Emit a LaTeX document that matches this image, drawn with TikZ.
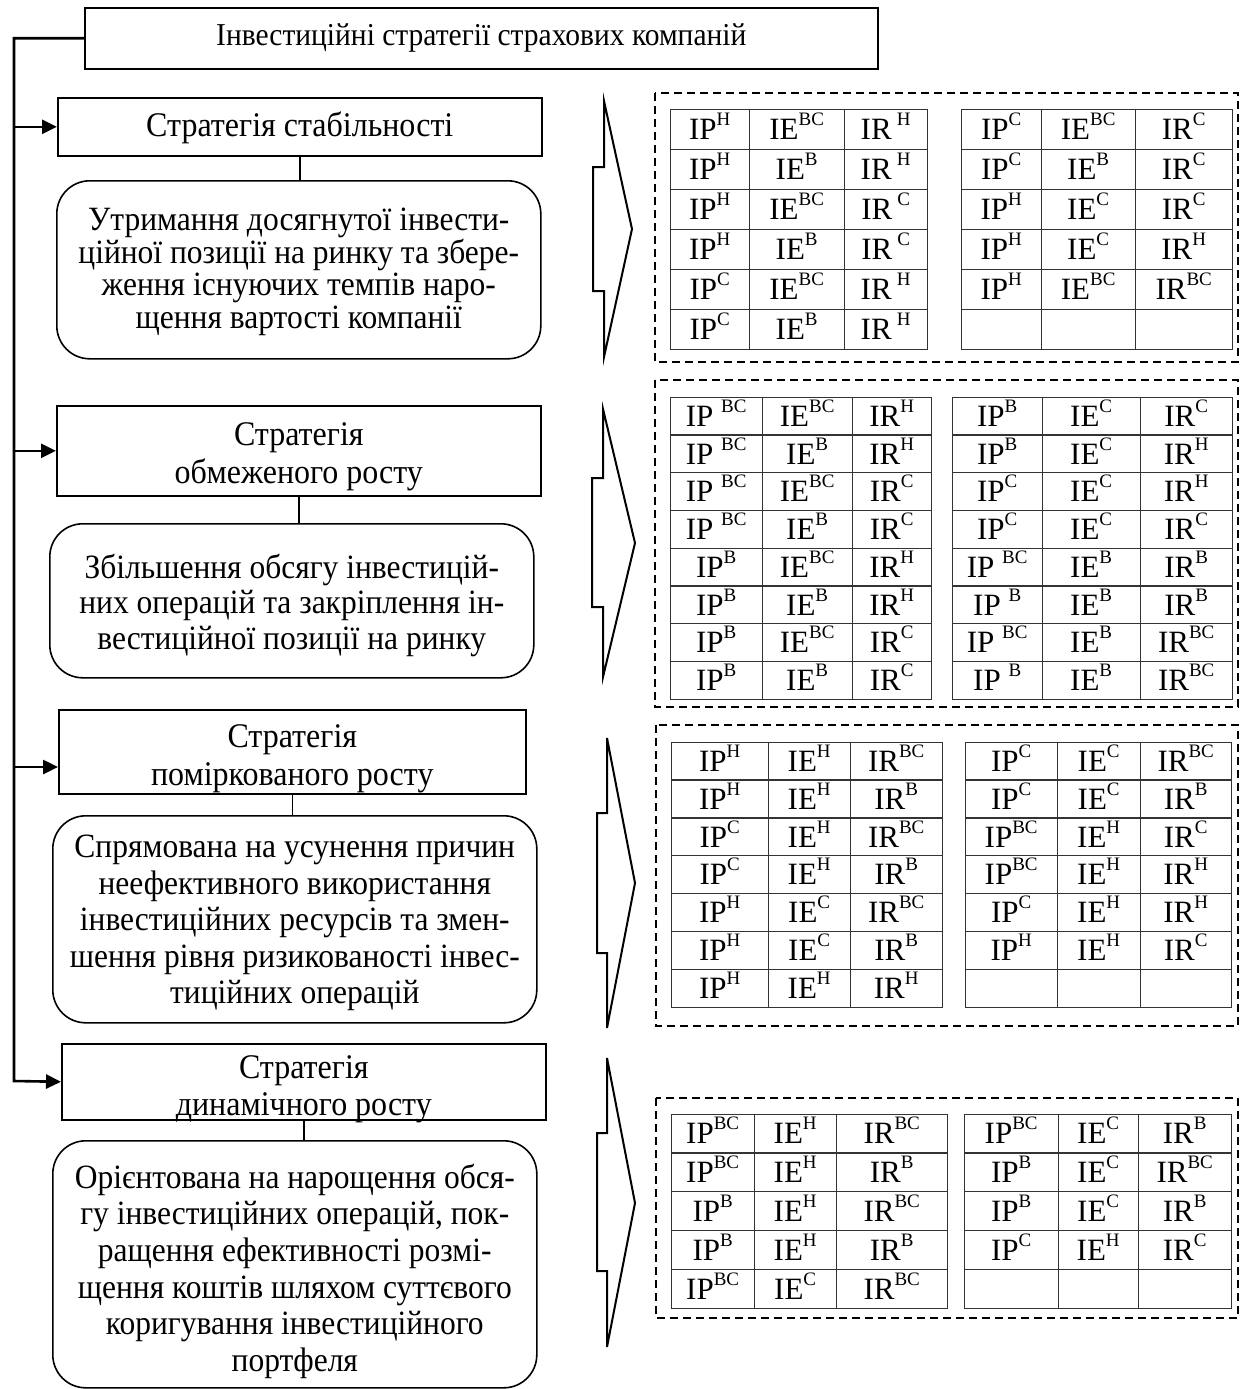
\documentclass[tikz,border=0pt]{standalone}
\usepackage{fontspec}
\setmainfont{Liberation Serif}
\usetikzlibrary{arrows.meta,matrix}

% raised index letter after IP / IE / IR
\newcommand\up[1]{\raisebox{14pt}{\fontsize{19}{19}\selectfont #1}}

\tikzset{
  frame/.style={draw, line width=1.6pt},
  sbox/.style={frame, rectangle, inner sep=0pt, anchor=north west},
  rbox/.style={frame, rounded corners=33pt, inner sep=0pt, anchor=north west},
  txt/.style={align=center, inner sep=0pt, yscale=1.08, transform shape},
  link/.style={line width=1.6pt},
  trunk/.style={line width=2.6pt},
  arr/.style={trunk, -{Triangle[length=15pt,width=14pt]}},
  chev/.style={line width=2pt, line join=miter},
  dashbox/.style={line width=1.9pt, dash pattern=on 8pt off 5pt},
  tab/.style={matrix of nodes, anchor=north west, nodes in empty cells,
    column sep=-1.3pt, row sep=-1.3pt,
    nodes={draw=black!80, line width=1.3pt, inner sep=0pt, text height=20.5pt,
      text depth=0pt, font=\fontsize{31}{34}\selectfont}},
  tabcols/.style n args={3}{column 1/.style={nodes={minimum width=#1}},
    column 2/.style={nodes={minimum width=#2}},
    column 3/.style={nodes={minimum width=#3}}},
  rowh/.style={nodes={minimum height=#1}}
}

\begin{document}
\begin{tikzpicture}[x=1pt, y=-1pt]
\useasboundingbox (0,0) rectangle (1246,1389);

% ---------- left column: strategies ----------
\node[sbox, minimum width=793pt, minimum height=61pt] (title) at (84,7) {};
\node[txt, font=\fontsize{29.5}{31}\selectfont] (titlet) at (title.center)
  {Інвестиційні стратегії страхових компаній};

\node[sbox, minimum width=484pt, minimum height=58pt] (s1) at (57,97) {};
\node[txt, font=\fontsize{32}{34.7}\selectfont] (s1t) at ([yshift=-1pt]s1.center) {Стратегія стабільності};
\node[rbox, minimum width=484pt, minimum height=178pt] (r1) at (56,180) {};
\node[txt, font=\fontsize{31.5}{30.1}\selectfont] (r1t) at ([yshift=-2pt]r1.center)
  {Утримання досягнутої інвести-\\ційної позиції на ринку та збере-\\ження існуючих темпів наро-\\щення вартості компанії};

\node[sbox, minimum width=484pt, minimum height=90pt] (s2) at (56,405) {};
\node[txt, font=\fontsize{32}{34.7}\selectfont] (s2t) at ([yshift=-6pt]s2.center) {Стратегія\\обмеженого росту};
\node[rbox, minimum width=484pt, minimum height=154pt] (r2) at (49,523) {};
\node[txt, font=\fontsize{31.5}{32.9}\selectfont] (r2t) at ([yshift=-4.5pt]r2.center)
  {Збільшення обсягу інвестицій-\\них операцій та закріплення ін-\\вестиційної позиції на ринку};

\node[sbox, minimum width=467pt, minimum height=84pt] (s3) at (58,709) {};
\node[txt, font=\fontsize{32}{34.7}\selectfont] (s3t) at ([yshift=-7pt]s3.center) {Стратегія\\поміркованого росту};
\node[rbox, minimum width=484pt, minimum height=207pt] (r3) at (52,815) {};
\node[txt, font=\fontsize{31.5}{33.8}\selectfont] (r3t) at ([yshift=-4pt]r3.center)
  {Спрямована на усунення причин\\неефективного використання\\інвестиційних ресурсів та змен-\\шення рівня ризикованості інвес-\\тиційних операцій};

\node[sbox, minimum width=484pt, minimum height=76pt] (s4) at (61,1043) {};
\node[txt, font=\fontsize{32}{34.7}\selectfont] (s4t) at ([yshift=-7.5pt]s4.center) {Стратегія\\динамічного росту};
\node[rbox, minimum width=484pt, minimum height=247pt] (r4) at (52,1140) {};
\node[txt, font=\fontsize{31.5}{34}\selectfont] (r4t) at ([yshift=-7pt]r4.center)
  {Орієнтована на нарощення обся-\\гу інвестиційних операцій, пок-\\ращення ефективності розмі-\\щення коштів шляхом суттєвого\\коригування інвестиційного\\портфеля};

% strategy box to its description
\draw[link] (s1.south) -- (s1.south |- r1.north);
\draw[link] (s2.south) -- (s2.south |- r2.north);
\draw[link] (s3.south) -- (s3.south |- r3.north);
\draw[link] (s4.south) -- (s4.south |- r4.north);

% trunk line with branches
\coordinate (tb) at (14,1081);
\coordinate (a3) at (14,767);
\draw[arr] (title.west) -| (tb) -- (s4.west);
\draw[arr] (s1.west -| tb) -- (s1.west);
\draw[arr] (s2.west -| tb) -- (s2.west);
\draw[arr] (a3) -- (a3 -| s3.west);

% ---------- chevrons ----------
\draw[chev] (604,101) -- (604,167) -- (593,167) -- (593,291) -- (604,291) -- (604,357) -- (632,229) -- cycle;
\draw[chev] (603,409) -- (603,478) -- (592,478) -- (592,607) -- (603,607) -- (603,677) -- (635,543) -- cycle;
\draw[chev] (607,738) -- (607,813) -- (597,813) -- (597,953) -- (607,953) -- (607,1028) -- (635,883) -- cycle;
\draw[chev] (607,1058) -- (607,1133) -- (597,1133) -- (597,1271) -- (607,1271) -- (607,1347) -- (635,1203) -- cycle;

% ---------- dashed frames ----------
\draw[dashbox] (655,93) rectangle (1238,362);
\draw[dashbox] (655,380) rectangle (1238,707);
\draw[dashbox] (656,725) rectangle (1238,1026);
\draw[dashbox] (656,1098) rectangle (1238,1318);

% ---------- tables: stability ----------
\matrix (g1a) [tab, tabcols={79pt}{95pt}{83pt}, rowh=40pt] at (666,105) {
IP\up{Н} & IE\up{ВС} & IR\,\up{Н} \\
IP\up{Н} & IE\up{В}  & IR\,\up{Н} \\
IP\up{Н} & IE\up{ВС} & IR\,\up{С} \\
IP\up{Н} & IE\up{В}  & IR\,\up{С} \\
IP\up{С} & IE\up{ВС} & IR\,\up{Н} \\
IP\up{С} & IE\up{В}  & IR\,\up{Н} \\
};
\matrix (g1b) [tab, tabcols={80pt}{94pt}{97pt}, rowh=40pt] at (957,105) {
IP\up{С} & IE\up{ВС} & IR\up{С} \\
IP\up{С} & IE\up{В}  & IR\up{С} \\
IP\up{Н} & IE\up{С}  & IR\up{С} \\
IP\up{Н} & IE\up{С}  & IR\up{Н} \\
IP\up{Н} & IE\up{ВС} & IR\up{ВС} \\
 & & \\
};

% ---------- tables: limited growth ----------
\matrix (g2a) [tab, tabcols={92pt}{90pt}{79pt}, rowh=37.75pt] at (666,393) {
IP \up{ВС} & IE\up{ВС} & IR\up{Н} \\
IP \up{ВС} & IE\up{В}  & IR\up{Н} \\
IP \up{ВС} & IE\up{ВС} & IR\up{С} \\
IP \up{ВС} & IE\up{В}  & IR\up{С} \\
IP\up{В}   & IE\up{ВС} & IR\up{Н} \\
IP\up{В}   & IE\up{В}  & IR\up{Н} \\
IP\up{В}   & IE\up{ВС} & IR\up{С} \\
IP\up{В}   & IE\up{В}  & IR\up{С} \\
};
\matrix (g2b) [tab, tabcols={90pt}{98pt}{92pt}, rowh=37.75pt] at (948,393) {
IP\up{В}   & IE\up{С} & IR\up{С} \\
IP\up{В}   & IE\up{С} & IR\up{Н} \\
IP\up{С}   & IE\up{С} & IR\up{Н} \\
IP\up{С}   & IE\up{С} & IR\up{С} \\
IP \up{ВС} & IE\up{В} & IR\up{В} \\
IP \up{В}  & IE\up{В} & IR\up{В} \\
IP \up{ВС} & IE\up{В} & IR\up{ВС} \\
IP \up{В}  & IE\up{В} & IR\up{ВС} \\
};

% ---------- tables: moderate growth ----------
\matrix (g3a) [tab, tabcols={97pt}{82pt}{92pt}, rowh=37.86pt] at (667,738) {
IP\up{Н} & IE\up{Н} & IR\up{ВС} \\
IP\up{Н} & IE\up{Н} & IR\up{В} \\
IP\up{С} & IE\up{Н} & IR\up{ВС} \\
IP\up{С} & IE\up{Н} & IR\up{В} \\
IP\up{Н} & IE\up{С} & IR\up{ВС} \\
IP\up{Н} & IE\up{С} & IR\up{В} \\
IP\up{Н} & IE\up{Н} & IR\up{Н} \\
};
\matrix (g3b) [tab, tabcols={92pt}{83pt}{91pt}, rowh=37.86pt] at (961,738) {
IP\up{С}  & IE\up{С} & IR\up{ВС} \\
IP\up{С}  & IE\up{С} & IR\up{В} \\
IP\up{ВС} & IE\up{Н} & IR\up{С} \\
IP\up{ВС} & IE\up{Н} & IR\up{Н} \\
IP\up{С}  & IE\up{Н} & IR\up{Н} \\
IP\up{Н}  & IE\up{Н} & IR\up{С} \\
 & & \\
};

% ---------- tables: dynamic growth ----------
\matrix (g4a) [tab, tabcols={83pt}{82pt}{111pt}, rowh=38.8pt] at (667,1110) {
IP\up{ВС} & IE\up{Н} & IR\up{ВС} \\
IP\up{ВС} & IE\up{Н} & IR\up{В} \\
IP\up{В}  & IE\up{Н} & IR\up{ВС} \\
IP\up{В}  & IE\up{Н} & IR\up{В} \\
IP\up{ВС} & IE\up{С} & IR\up{ВС} \\
};
\matrix (g4b) [tab, tabcols={94pt}{80pt}{93pt}, rowh=38.8pt] at (960,1110) {
IP\up{ВС} & IE\up{С} & IR\up{В} \\
IP\up{В}  & IE\up{С} & IR\up{ВС} \\
IP\up{В}  & IE\up{С} & IR\up{В} \\
IP\up{С}  & IE\up{Н} & IR\up{С} \\
 & & \\
};
\end{tikzpicture}
\end{document}
